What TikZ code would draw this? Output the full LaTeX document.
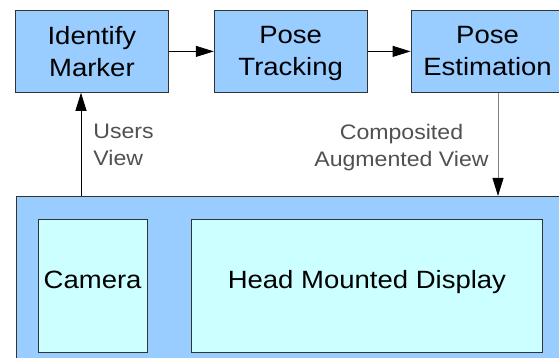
\documentclass[tikz,border=0pt]{standalone}
\usepackage{fontspec}
\setmainfont{Liberation Sans}[FakeStretch=1.1]
\usetikzlibrary{arrows.meta,positioning}
\definecolor{stageblue}{HTML}{99CCFF}
\definecolor{devicecyan}{HTML}{CCFFFF}
\definecolor{labelgray}{HTML}{505050}
\tikzset{>={Triangle[length=18pt,width=11pt]}}
\tikzset{
    stage/.style={draw=black!80, fill=stageblue, line width=0.8pt,
        minimum width=153pt, minimum height=82pt, inner sep=0pt, text depth=0pt,
        align=center, anchor=north west, font=\fontsize{25}{32}\selectfont},
    device/.style={stage, fill=devicecyan, minimum height=133pt,
        text height=18pt, text depth=13pt},
    flowlabel/.style={text=labelgray, inner sep=0pt, font=\fontsize{21}{27}\selectfont}
}

\begin{document}
\begin{tikzpicture}[x=1pt,y=-1pt,line width=0.8pt]
            \useasboundingbox (0,0) rectangle (559,358);
            \clip (0,0) rectangle (559,358);
            % processing chain
            \node[stage] (idmarker) at (15,10) {Identify\\Marker};
            \node[stage, right=45pt of idmarker] (tracking) {Pose\\Tracking};
            \node[stage, right=43pt of tracking] (estimation) {Pose\\Estimation};
            % head mounted unit
            \node[stage, minimum width=600pt, minimum height=200pt] (hmdunit) at (16,196) {};
            \node[device, minimum width=109.5pt] (camera) at (37.5,219) {Camera};
            \node[device, minimum width=351pt] (hmd) at (191,219) {Head Mounted Display};
            \draw[->] (idmarker) -- (tracking);
            \draw[->] (tracking) -- (estimation);
            \coordinate (usersin) at (81,196);
            \coordinate (augin)   at (498,196);
            \draw[->] (usersin) -- node[flowlabel, right=12pt, align=left] {Users\\View}
                (usersin |- idmarker.south);
            \draw[gray, -{Triangle[length=18pt,width=11pt,black]}] (augin |- estimation.south)
                -- node[flowlabel, left=9pt, align=center, yshift=-3pt] {Composited\\Augmented View} (augin);
        \end{tikzpicture}
\end{document}
